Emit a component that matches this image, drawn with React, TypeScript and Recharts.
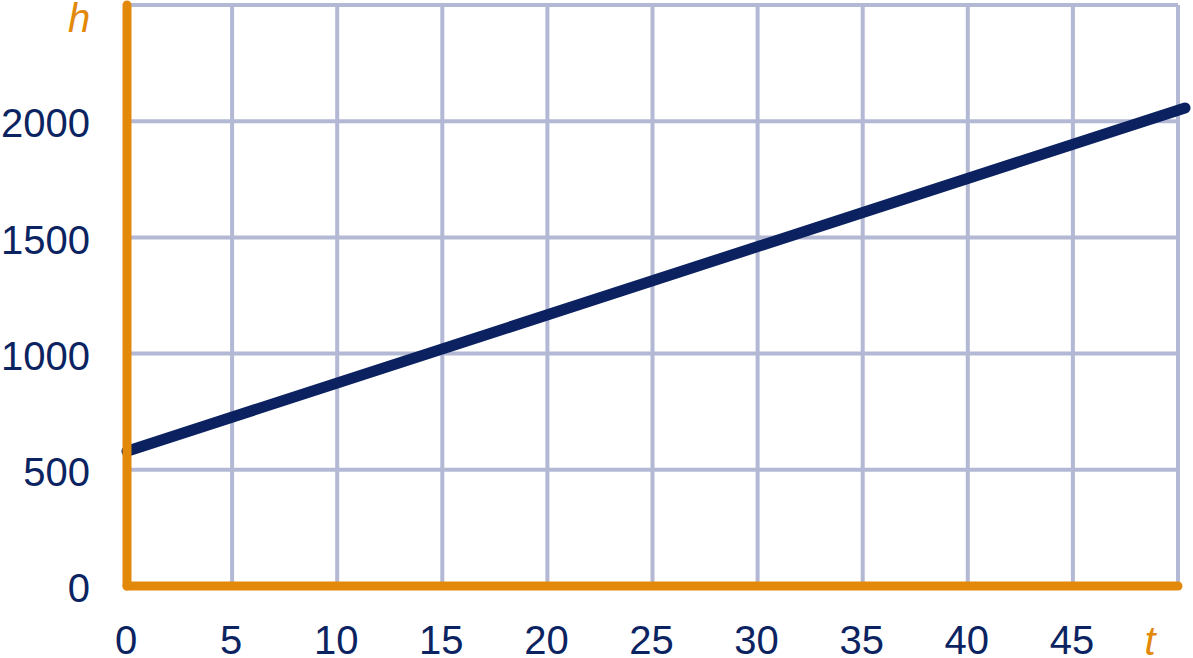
import React from 'react';
import { LineChart, Line, XAxis, YAxis, CartesianGrid, Label } from 'recharts';

const tValues = [0, 50.4];
const hValues = [580, 2057];
const xTicks = [0, 5, 10, 15, 20, 25, 30, 35, 40, 45];
const yTicks = [0, 500, 1000, 1500, 2000];
const xGrid = [0, 5, 10, 15, 20, 25, 30, 35, 40, 45, 50];
const yGrid = [0, 500, 1000, 1500, 2000, 2500];

const data = tValues.map((t, i) => ({ t, h: hValues[i] }));

const ORANGE = '#E3890A';
const NAVY = '#0B2160';
const LABEL = '#0B2461';
const GRID = '#B3B8D4';
const FONT = '"Liberation Sans", Arial, sans-serif';

const YTick = (props: any) => {
  const { x, y, payload } = props;
  return (
    <text x={x} y={y + 2} dy="0.355em" textAnchor="end" fill={LABEL} fontSize={40} fontFamily={FONT}>
      {payload.value}
    </text>
  );
};

const XTick = (props: any) => {
  const { x, y, payload } = props;
  return (
    <text x={x - 1} y={y} dy="0.355em" textAnchor="middle" fill={LABEL} fontSize={40} fontFamily={FONT}>
      {payload.value}
    </text>
  );
};

export default function App() {
  return (
    <div style={{ position: 'absolute', left: 0, top: 0, width: 1193, height: 658, background: '#fff' }}>
      <LineChart width={1193} height={658} data={data} margin={{ top: 5, right: 15, bottom: 0, left: 0 }}>
        <CartesianGrid
          xAxisId="main"
          stroke={GRID}
          strokeWidth={4}
          horizontalValues={yGrid}
          verticalValues={xGrid}
        />
        <XAxis
          xAxisId="line"
          dataKey="t"
          type="number"
          orientation="top"
          domain={[0, 50.4]}
          padding={{ left: 0, right: -7 }}
          height={0}
          hide
        />
        <XAxis
          xAxisId="main"
          dataKey="t"
          type="number"
          domain={[0, 50]}
          allowDataOverflow
          ticks={xTicks}
          interval={0}
          height={72}
          tickLine={false}
          tickSize={0}
          tickMargin={54}
          tick={<XTick />}
          axisLine={{ stroke: ORANGE, strokeWidth: 9, strokeLinecap: 'round' }}
        >
          <Label
            content={(p: any) => {
              const vb = p.viewBox;
              return (
                <text x={vb.x + 1023} y={vb.y + 69} textAnchor="middle" fill={ORANGE} fontSize={40} fontStyle="italic" fontFamily={FONT}>
                  t
                </text>
              );
            }}
          />
        </XAxis>
        <YAxis
          dataKey="h"
          type="number"
          domain={[0, 2500]}
          ticks={yTicks}
          interval={0}
          width={127}
          tickLine={false}
          tickSize={0}
          tickMargin={37}
          tick={<YTick />}
          axisLine={{ stroke: ORANGE, strokeWidth: 9, strokeLinecap: 'round' }}
        >
          <Label
            content={(p: any) => {
              const vb = p.viewBox;
              return (
                <text x={vb.x + 79} y={vb.y + 27} textAnchor="middle" fill={ORANGE} fontSize={40} fontStyle="italic" fontFamily={FONT}>
                  h
                </text>
              );
            }}
          />
        </YAxis>
        <Line
          xAxisId="line"
          type="linear"
          dataKey="h"
          stroke={NAVY}
          strokeWidth={11}
          strokeLinecap="round"
          dot={false}
          activeDot={false}
          isAnimationActive={false}
        />
      </LineChart>
    </div>
  );
}
